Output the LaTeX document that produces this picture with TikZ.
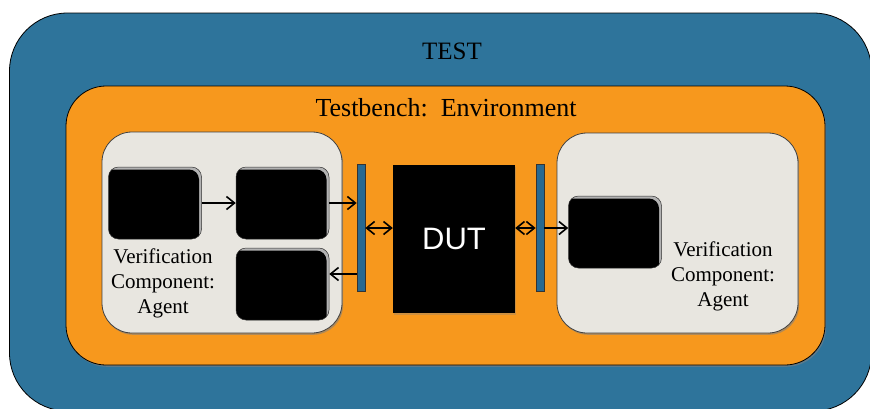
\documentclass[tikz,border=0pt]{standalone}
\usepackage{fontspec}
\setmainfont{Liberation Serif}
\newfontfamily\arialf{Liberation Sans}
\usetikzlibrary{arrows.meta,shadows}
\definecolor{testblue}{RGB}{46,116,155}
\definecolor{envorange}{RGB}{247,152,29}
\definecolor{agentgray}{RGB}{232,230,224}
\definecolor{barblue}{RGB}{40,105,145}
\tikzset{
  testbox/.style={rectangle, fill=testblue, draw=black, line width=0.8pt, rounded corners=58pt},
  envbox/.style={rectangle, fill=envorange, draw=black, line width=0.8pt, rounded corners=40pt,
    drop shadow={shadow xshift=1.2pt, shadow yshift=-1.8pt, opacity=0.55}},
  agentbox/.style={rectangle, fill=agentgray, draw=black!75, line width=0.8pt, rounded corners=30pt,
    drop shadow={shadow xshift=1.2pt, shadow yshift=-1.8pt, opacity=0.6}},
  blkbox/.style={rectangle, fill=gray!60, draw=black!80, line width=0.5pt, rounded corners=10pt,
    minimum width=93pt, minimum height=72pt, inner sep=0pt,
    path picture={\fill[black, rounded corners=10pt]
      ([xshift=-2.5pt,yshift=-2.5pt]path picture bounding box.north east) rectangle
      ([xshift=-8pt,yshift=-8pt]path picture bounding box.south west);}},
  barbox/.style={rectangle, fill=barblue, draw=black!80, line width=0.7pt,
    minimum width=8pt, minimum height=127pt, inner sep=0pt},
  dutbox/.style={rectangle, fill=black, minimum width=122pt, minimum height=148pt, inner sep=0pt,
    font=\arialf\fontsize{31}{36}\selectfont, text=white,
    drop shadow={shadow xshift=1.2pt, shadow yshift=-1.5pt, opacity=0.35}},
  lbl/.style={inner sep=0pt, align=center},
  agtext/.style={lbl, font=\fontsize{21}{25}\selectfont},
  tip/.tip={Straight Barb[length=8pt,width=13pt,line width=1.6pt]},
  conn/.style={line width=1.6pt, -tip},
  dconn/.style={line width=1.6pt, tip-tip}
}
\begin{document}
\begin{tikzpicture}[x=1pt,y=-1pt]
\useasboundingbox (0,0) rectangle (870,408);
\clip (0,0) rectangle (870,408);
\node[testbox, minimum width=862pt, minimum height=398pt] (test) at (440.5,212) {};
\node[lbl, font=\fontsize{25}{30}\selectfont] (testlbl) at (452,51) {TEST};
\node[envbox, minimum width=759pt, minimum height=279pt] (env) at (445.5,225.5) {};
\node[lbl, font=\fontsize{26}{30}\selectfont] (envlbl) at (446,108) {Testbench:\ \ Environment};
\node[agentbox, minimum width=240pt, minimum height=201pt] (agL) at (222,232.5) {};
\node[agentbox, minimum width=241pt, minimum height=200pt] (agR) at (677.5,233) {};
\node[blkbox] (b1) at (155,203) {};
\node[blkbox] (b2) at (282.5,203) {};
\node[blkbox] (b3) at (282.5,284) {};
\node[blkbox] (b4) at (615,232) {};
\node[barbox] (barL) at (361,227.5) {};
\node[barbox] (barR) at (540,227.5) {};
\node[dutbox] (dut) at (454,239) {DUT};
\node[agtext] (tL) at (163,283) {Verification\\Component:\\Agent};
\node[agtext] (tR) at (723,276) {Verification\\Component:\\Agent};
\draw[conn] (b1.east) -- (b2.west);
\draw[conn] (b2.east) -- (b2.east -| barL.west);
\draw[conn] ([yshift=10pt]b3.east -| barL.west) -- ([yshift=10pt]b3.east);
\draw[dconn] ([yshift=11pt]dut.west -| barL.east) -- ([yshift=11pt]dut.west);
\draw[dconn] ([yshift=11pt]dut.east) -- ([yshift=11pt]dut.east -| barR.west);
\draw[conn] ([yshift=4pt]b4.west -| barR.east) -- ([yshift=4pt]b4.west);
\end{tikzpicture}
\end{document}
